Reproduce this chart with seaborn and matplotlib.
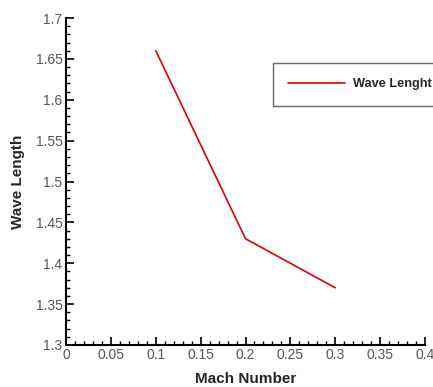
import matplotlib
matplotlib.use("Agg")
import matplotlib.pyplot as plt
import seaborn as sns
import pandas as pd
from matplotlib.ticker import MultipleLocator

mach = [0.1, 0.2, 0.3]
wave_length = [1.66, 1.43, 1.37]
series_name = "Wave Lenght"

sns.set_theme(style="ticks")
plt.rcParams['font.family'] = ['Liberation Sans', 'DejaVu Sans']

df = pd.DataFrame({"Mach Number": mach, "Wave Length": wave_length, "s": series_name})

fig = plt.figure(figsize=(4.33, 3.87), dpi=100)
ax = fig.add_axes([66/433, 42/387, 359/433, 327/387])
sns.lineplot(data=df, x="Mach Number", y="Wave Length", hue="s", palette=["#e00000"],
             ax=ax, linewidth=1.2)

ax.set_xlim(0, 0.4)
ax.set_ylim(1.3, 1.7)
ax.xaxis.set_major_locator(MultipleLocator(0.05))
ax.xaxis.set_minor_locator(MultipleLocator(0.01))
ax.yaxis.set_major_locator(MultipleLocator(0.05))
ax.yaxis.set_minor_locator(MultipleLocator(0.01))
ax.set_xticklabels([f"{v:g}" for v in ax.get_xticks()])
ax.set_yticklabels([f"{v:g}" for v in ax.get_yticks()])
ax.tick_params(which="major", direction="in", length=6, width=1.2, color="black",
               labelsize=10, labelcolor="#555555", pad=2.5)
ax.tick_params(which="minor", direction="in", length=3, width=1.0, color="black")
for s in ["top", "right"]:
    ax.spines[s].set_visible(False)
for s in ["left", "bottom"]:
    ax.spines[s].set_linewidth(1.5)
    ax.spines[s].set_color("black")

ax.set_xlabel("Mach Number", fontsize=11, fontweight="bold", labelpad=7)
ax.set_ylabel("Wave Length", fontsize=11, fontweight="bold", labelpad=8)

leg = ax.legend(loc="upper left", bbox_to_anchor=(273/433, 1 - 63/387),
                bbox_transform=fig.transFigure, frameon=True, fancybox=False,
                prop={"weight": "bold", "size": 9.2}, handlelength=4.4,
                borderpad=1.2, handletextpad=0.65, borderaxespad=0)
leg.get_frame().set_edgecolor("#444444")
leg.get_frame().set_linewidth(1.0)

fig.savefig("out.png", dpi=100)
